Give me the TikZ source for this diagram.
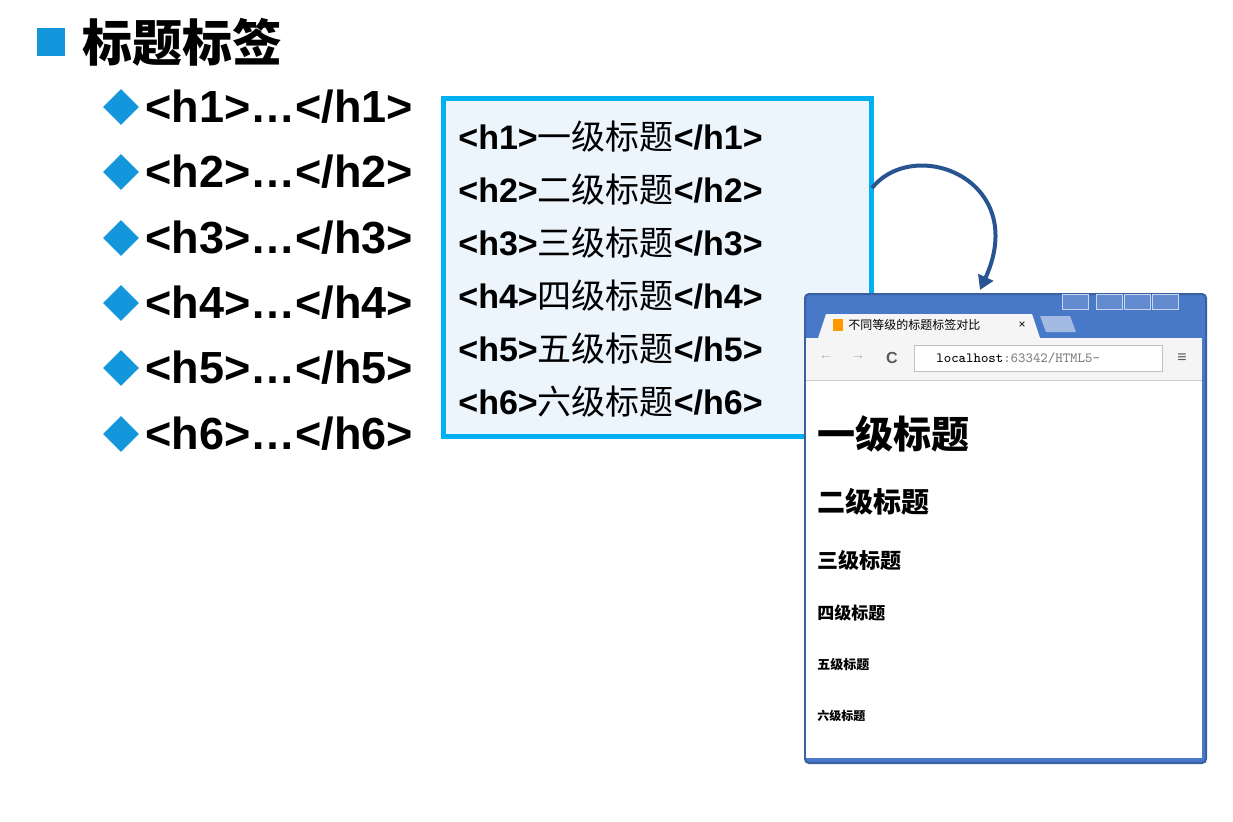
\documentclass[tikz,border=0pt]{standalone}
\usepackage{fontspec}
\setmainfont{Liberation Sans}
\newfontfamily\cjk{Noto Sans CJK SC}
\usetikzlibrary{arrows.meta,shapes.geometric}
\definecolor{cyanb}{RGB}{0,176,240}
\definecolor{boxfill}{RGB}{236,244,252}
\definecolor{bull}{RGB}{20,150,220}
\definecolor{frameb}{RGB}{72,120,200}
\definecolor{arr}{RGB}{40,85,145}
\tikzset{
 item/.style={anchor=west,font=\fontsize{22.5}{24}\selectfont\bfseries,inner sep=0},
 codel/.style={anchor=west,font=\fontsize{17}{19}\selectfont,inner sep=0},
 dia/.style={diamond,fill=bull,minimum size=18pt,inner sep=0},
 hd/.style={anchor=west,inner sep=0,font=\cjk\bfseries}
}
\begin{document}
\begin{tikzpicture}[x=0.5pt,y=-0.5pt]
\useasboundingbox (0,0) rectangle (1233,821);
\node[fill=bull,minimum size=14pt,inner sep=0] (sq) at (51,42) {};
\node[anchor=west,inner sep=0,font=\cjk\fontsize{25}{28}\selectfont\bfseries] (title) at (82,42) {标题标签};
\foreach \i/\y in {1/107,2/172,3/238,4/303,5/368,6/434}{
 \node[dia] (d\i) at (121,\y) {};
 \node[item] (t\i) at (145,\y) {<h\i>…</h\i>};
}
\node[draw=cyanb,line width=2.5pt,fill=boxfill,minimum width=214pt,minimum height=169pt,inner sep=0] (box) at (657,267) {};
\foreach \i/\c/\y in {1/一/137,2/二/190,3/三/243,4/四/296,5/五/349,6/六/402}{
 \node[codel] (c\i) at (458,\y) {\textbf{<h\i>}{\cjk \c 级标题}\textbf{</h\i>}};
}
% browser
\node[draw=frameb!80!black,line width=1pt,fill=frameb,minimum width=200.5pt,minimum height=234.5pt,inner sep=0,anchor=north west,rounded corners=2pt] (br) at (804,293) {};
\fill[white] (806,380) rectangle (1202,758);
\fill[gray!8] (806,338) rectangle (1202,380);
\draw[gray!40] (806,380) -- (1202,380);
\fill[gray!8] (818,338) -- (826,314) -- (1032,314) -- (1040,338) -- cycle;
\fill[frameb!50!white] (1040,316) -- (1070,316) -- (1076,332) -- (1046,332) -- cycle;
\node[anchor=west,inner sep=0,font=\cjk\fontsize{6}{7}\selectfont] (tabt) at (848,325) {不同等级的标题标签对比};
\fill[orange!80!yellow] (833,319) rectangle (843,331);
\node[inner sep=0,font=\fontsize{6}{7}\selectfont] (cls) at (1022,325) {×};
\foreach \x in {1062,1096,1124,1152}{\draw[white!70!frameb,fill=frameb!85!white] (\x,294) rectangle (\x+26,309);}
\node[inner sep=0,font=\fontsize{7}{8}\selectfont,text=gray!60] (back) at (826,358) {←};
\node[inner sep=0,font=\fontsize{7}{8}\selectfont,text=gray!60] (fwd) at (858,358) {→};
\node[inner sep=0,font=\fontsize{8}{9}\selectfont\bfseries,text=gray!70!black] (rel) at (892,358) {C};
\node[draw=gray!50,fill=white,minimum width=124pt,minimum height=13pt,inner sep=0,anchor=west] (url) at (914,358) {};
\node[anchor=west,inner sep=0,font=\ttfamily\fontsize{7}{8}\selectfont] (urlt) at (936,358) {localhost\textcolor{gray}{:63342/HTML5-}};
\node[inner sep=0,font=\fontsize{8}{9}\selectfont,text=gray!70!black] (menu) at (1182,358) {≡};
\node[hd,font=\cjk\fontsize{19}{22}\selectfont\bfseries] (b1) at (817,434) {一级标题};
\node[hd,font=\cjk\fontsize{14}{16}\selectfont\bfseries] (b2) at (817,502) {二级标题};
\node[hd,font=\cjk\fontsize{10.5}{12}\selectfont\bfseries] (b3) at (817,560) {三级标题};
\node[hd,font=\cjk\fontsize{8.5}{10}\selectfont\bfseries] (b4) at (817,613) {四级标题};
\node[hd,font=\cjk\fontsize{6.5}{8}\selectfont\bfseries] (b5) at (817,665) {五级标题};
\node[hd,font=\cjk\fontsize{6}{7}\selectfont\bfseries] (b6) at (817,716) {六级标题};
\coordinate (as) at (872,188);
\coordinate (ae) at (980,290);
\draw[arr,line width=2pt,-{Triangle[length=7pt,width=8pt]}] (as) .. controls (915,135) and (1030,180) .. (ae);
\end{tikzpicture}
\end{document}
